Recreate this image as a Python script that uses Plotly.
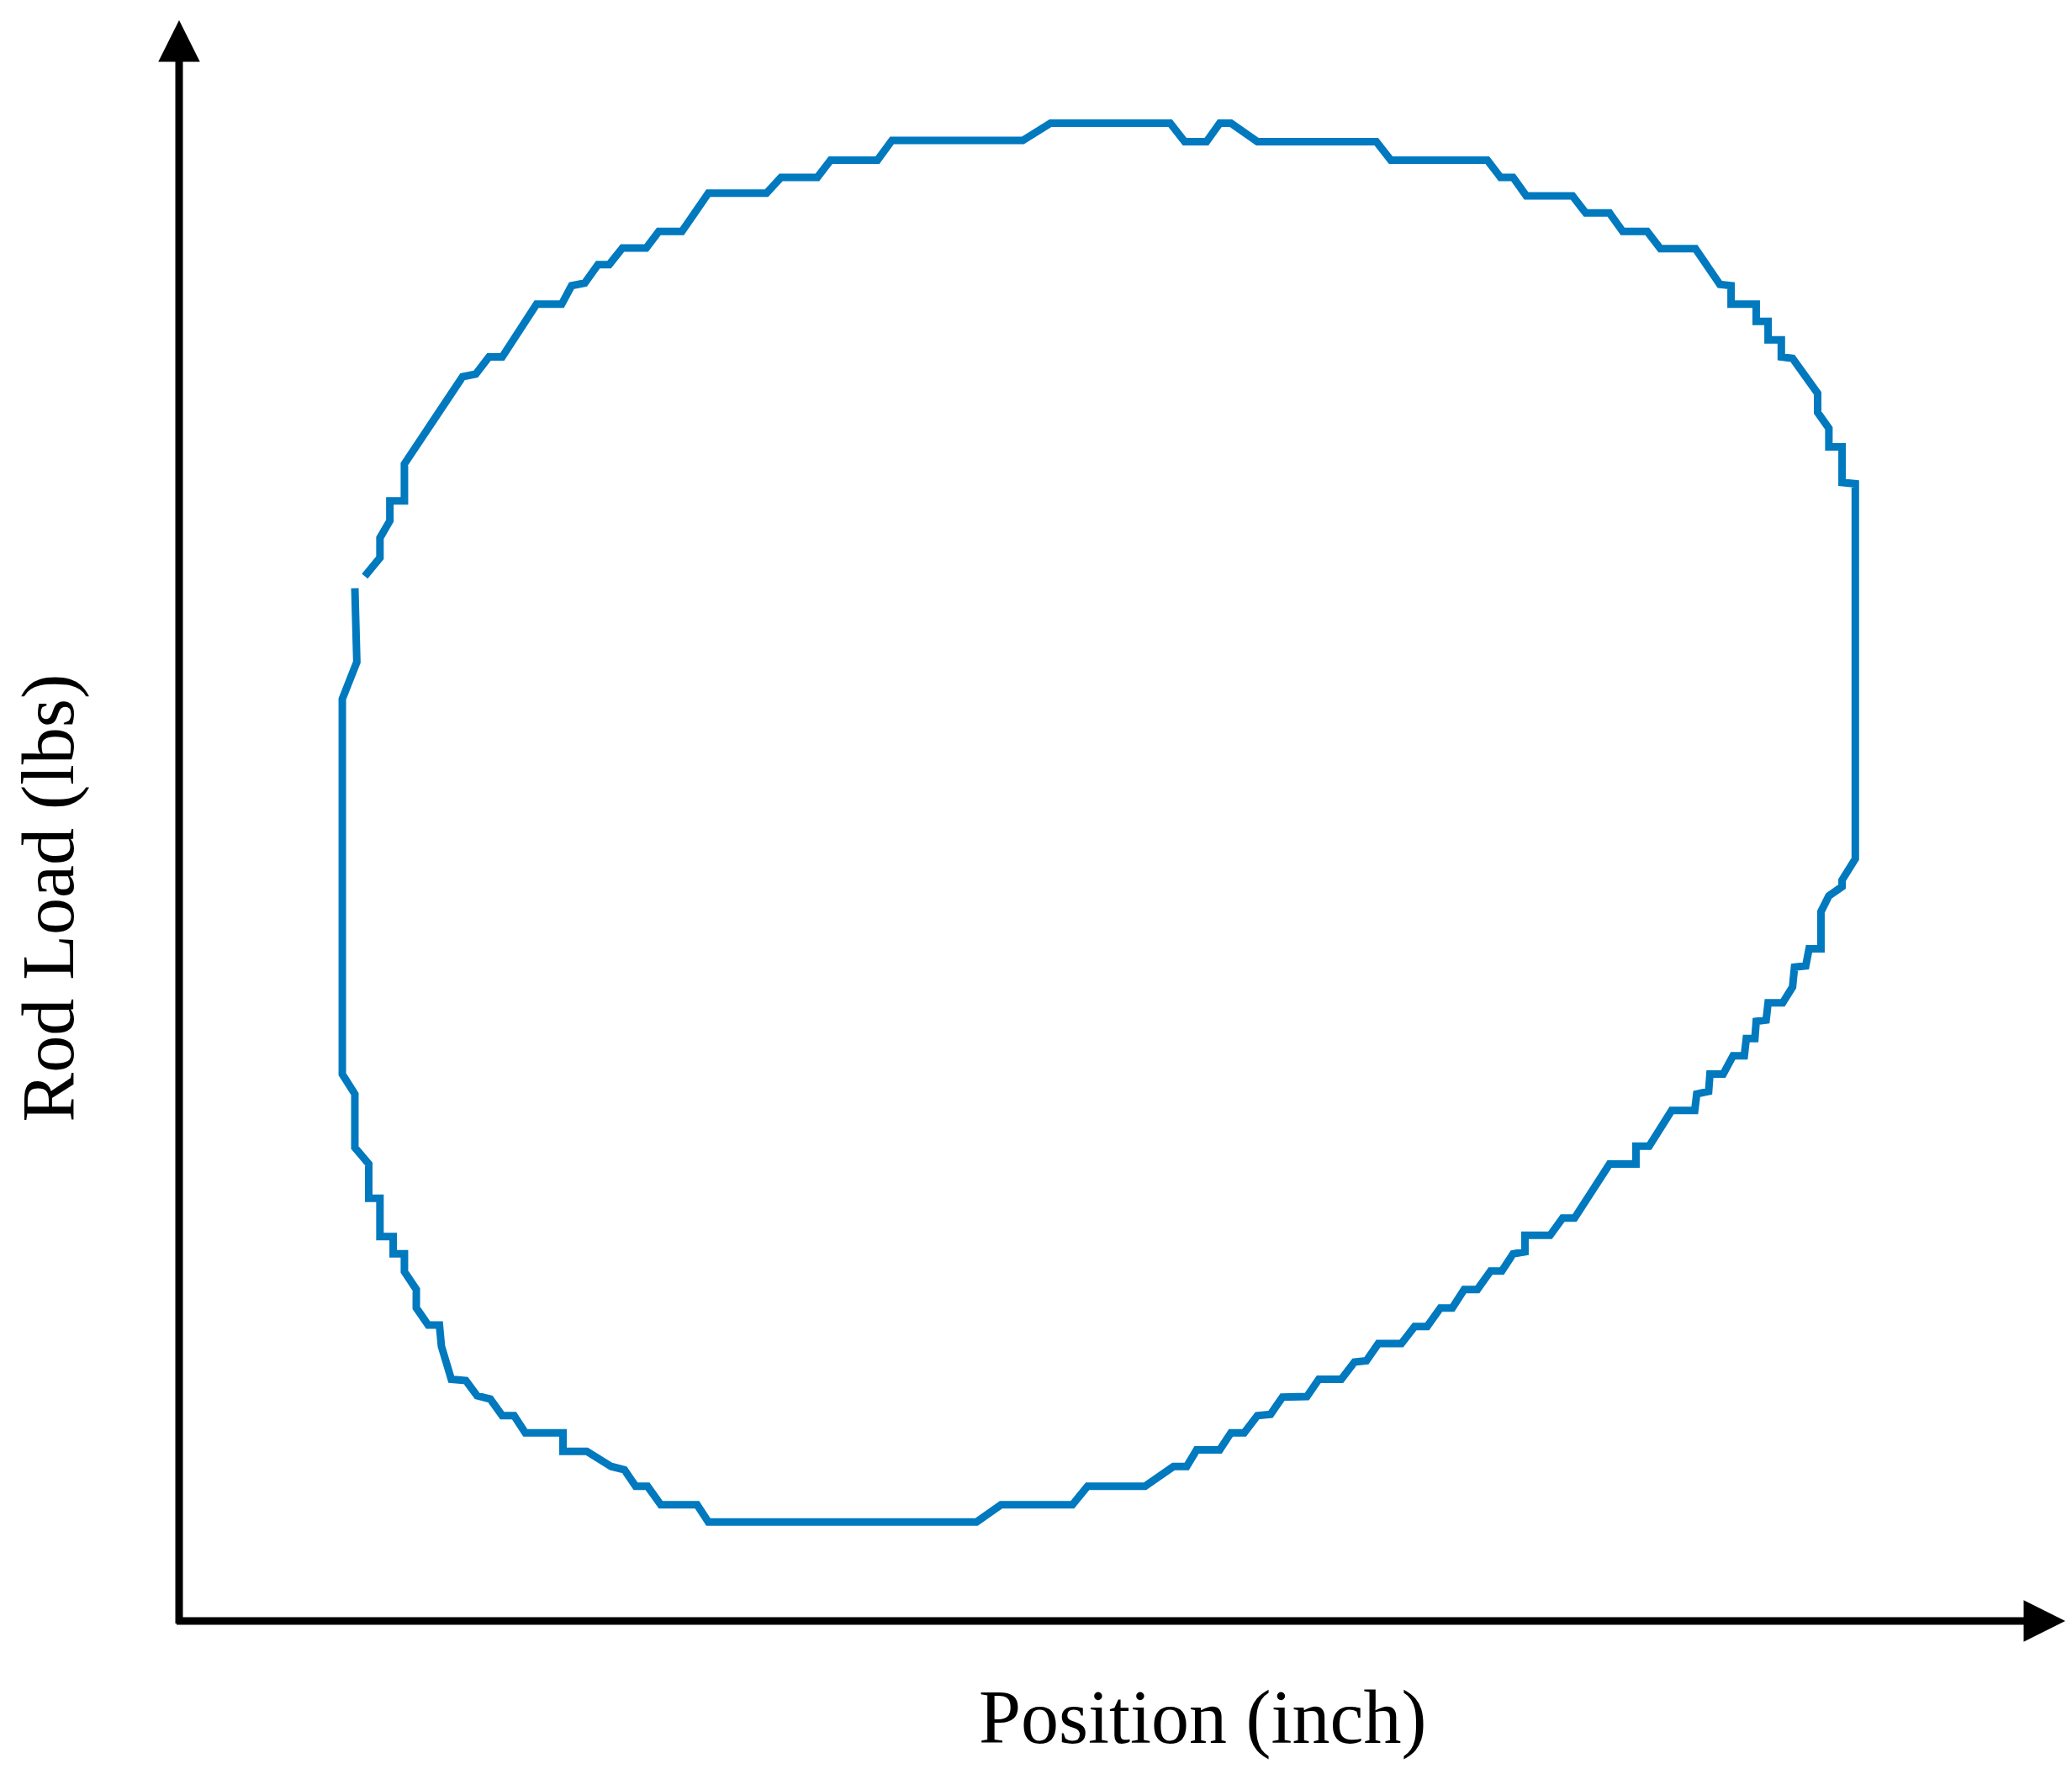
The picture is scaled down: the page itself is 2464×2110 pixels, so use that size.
"""Pump dynamometer card: rod load against polished-rod position."""
import plotly.graph_objects as go

# Card outline (no tick values, so units are relative).
POSITION_IN = [
    140.5, 152, 152, 159.5, 159.5, 170.5, 170.5, 214.5, 224.5, 234.5, 244.5, 270.5, 289.5,
    297, 307, 317, 325.5, 335.5, 353.5, 363, 380.5, 400.5, 444.5, 455.5, 483, 493, 528.5,
    539.5, 638.5, 659.5, 750, 761, 777.5, 787.5, 796, 816, 906, 917, 990, 1000, 1009.5,
    1019.5, 1054.5, 1064.5, 1082.5, 1092.5, 1111, 1121, 1147.5, 1166, 1174.5, 1174.5,
    1193.5, 1193.5, 1202.5, 1202.5, 1212.5, 1212.5, 1221, 1240, 1240, 1248.5, 1248.5,
    1258.5, 1258.5, 1268.5, 1268.5, 1258.5, 1258.5, 1248.5, 1242.5, 1242.5, 1233.5, 1231,
    1222.5, 1221, 1213.5, 1202.5, 1201, 1193.5, 1192.5, 1186, 1184.5, 1176, 1168.5, 1158.5,
    1157.5, 1148.5, 1147, 1129.5, 1112.5, 1102.5, 1102.5, 1082.5, 1056, 1047, 1037.5,
    1018.5, 1018.5, 1009.5, 1001, 992.5, 982.5, 972.5, 963.5, 954.5, 944.5, 935, 925,
    907.5, 898.5, 889.5, 879.5, 862.5, 853.5, 835, 826, 816, 806, 796, 787.5, 770, 762.5,
    752.5, 731, 687.5, 676, 622, 603.5, 400.5, 392, 364.5, 354.5, 345.5, 337, 327, 308.5,
    290.5, 290.5, 262, 253.5, 244.5, 235.5, 225.5, 217, 206, 198.5, 197, 188.5, 179.5,
    179.5, 170.5, 170.5, 162, 162, 152, 152, 143.5, 143.5, 133, 133, 123.5, 123.5, 134.5,
    133,
]
LOAD_LBS = [
    791, 805, 820, 833, 848, 848, 876, 942, 944, 957, 957, 997, 997, 1011, 1013, 1027, 1027,
    1039.5, 1039.5, 1052, 1052, 1081, 1081, 1093, 1093, 1106, 1106, 1121, 1121, 1134, 1134,
    1120, 1120, 1134, 1134, 1120, 1120, 1106, 1106, 1093, 1093, 1079, 1079, 1066, 1066, 1052,
    1052, 1039, 1039, 1012, 1011, 997, 997, 984, 984, 970, 970, 957, 956, 929.5, 915, 903,
    889, 889, 862, 861, 577, 561, 556, 549, 537, 509, 509, 496, 495, 480, 468, 468, 455, 454,
    441, 441, 428, 428, 414, 414, 401, 399, 386.5, 386.5, 359.5, 359.5, 346, 346, 305, 305,
    292, 292, 279.5, 278, 265, 265, 251, 251, 237, 237, 223, 223, 210, 210, 197, 196, 183,
    183, 170, 169.5, 156.5, 155.5, 142.5, 142.5, 129.5, 129.5, 117, 117, 102, 102, 88, 88,
    75, 75, 88, 88, 102, 102, 114.5, 117, 128.5, 128.5, 142.5, 142.5, 155.5, 155.5, 168,
    170.5, 182, 183, 208, 224, 224, 237, 251, 264.5, 278, 278, 291, 291, 320, 320, 346,
    358.5, 399, 414, 698, 726, 782,
]

X_MAX = 1427.4
Y_MAX = 1212
AXIS_TAIL = -2.9

X_TITLE = "Position (inch)"
Y_TITLE = "Rod Load (lbs)"

FONT = "Liberation Serif, Times New Roman, serif"

fig = go.Figure()

fig.add_trace(
    go.Scatter(
        x=POSITION_IN,
        y=LOAD_LBS,
        mode="lines",
        line=dict(color="#0079bf", width=9),
        showlegend=False,
        hoverinfo="skip",
    )
)

# axes drawn as arrows from the origin
for head_x, head_y, tail_x, tail_y in [(X_MAX, 0, AXIS_TAIL, 0), (0, Y_MAX, 0, AXIS_TAIL)]:
    fig.add_annotation(
        x=head_x, y=head_y, ax=tail_x, ay=tail_y,
        xref="x", yref="y", axref="x", ayref="y",
        text="", showarrow=True,
        arrowhead=2, arrowsize=1.1, arrowwidth=9, arrowcolor="black",
    )

fig.add_annotation(
    text=X_TITLE, xref="paper", yref="paper", x=0.543, y=-0.0603,
    xanchor="center", yanchor="middle", showarrow=False,
    font=dict(family=FONT, size=90, color="black"),
)
fig.add_annotation(
    text=Y_TITLE, xref="paper", yref="paper", x=-0.0691, y=0.4514,
    xanchor="center", yanchor="middle", showarrow=False, textangle=-90,
    font=dict(family=FONT, size=88, color="black"),
)

hidden = dict(showgrid=False, zeroline=False, showline=False, showticklabels=False,
              ticks="", fixedrange=True)
fig.update_xaxes(range=[0, X_MAX], **hidden)
fig.update_yaxes(range=[0, Y_MAX], **hidden)

# the page body adds 8px around the figure
fig.update_layout(
    width=2456,
    height=2102,
    margin=dict(l=205, r=8, t=16, b=182, pad=0, autoexpand=False),
    paper_bgcolor="white",
    plot_bgcolor="white",
)

fig.write_html("out.html")
